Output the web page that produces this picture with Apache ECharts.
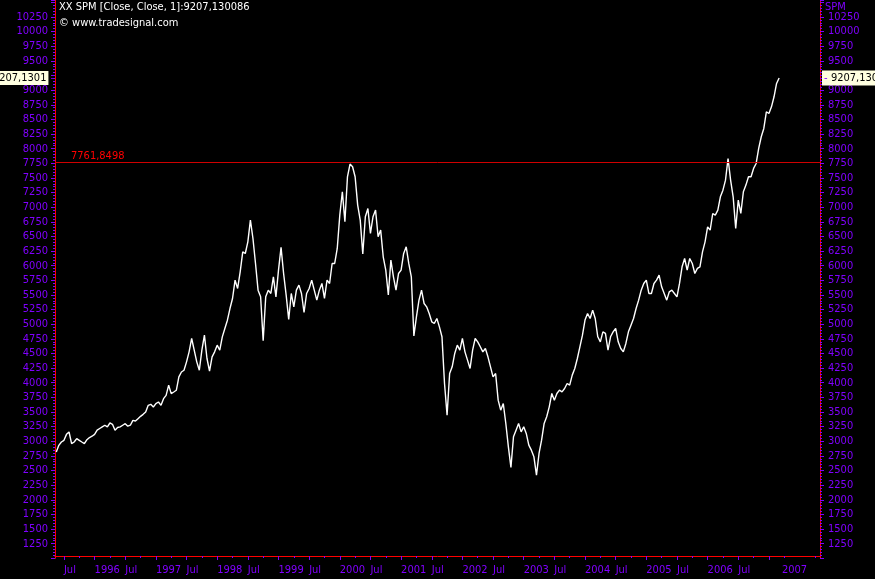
<!DOCTYPE html>
<html>
<head>
<meta charset="utf-8">
<script src="https://cdn.jsdelivr.net/npm/echarts@6/dist/echarts.min.js"></script>
<style>
html,body{margin:0;padding:0;background:#000;}
#chart{width:875px;height:579px;}
</style>
</head>
<body>
<div id="chart"></div>
<script>
// ---- DATA ----
// Half-monthly closes, first value = 1995-05-15, last = 2007-02-15
const seriesName = 'XX SPM';
const closeValues = [
2816,2930,2987,3016,3118,3158,2959,2987,3044,3016,
2987,2959,3027,3064,3086,3118,3189,3218,3246,3274,
3246,3312,3290,3189,3235,3246,3274,3301,3257,3274,
3358,3346,3386,3426,3460,3500,3614,3631,3586,3643,
3671,3614,3728,3785,3958,3814,3842,3871,4099,4184,
4213,4357,4528,4756,4556,4357,4213,4556,4813,4414,
4200,4443,4528,4642,4556,4784,4927,5069,5268,5439,
5752,5610,5895,6237,6208,6408,6778,6465,6038,5582,
5468,4720,5468,5582,5525,5810,5468,5924,6312,5867,
5497,5081,5525,5297,5582,5668,5525,5200,5525,5611,
5753,5582,5411,5582,5696,5440,5753,5696,6038,6038,
6294,6864,7263,6750,7519,7736,7690,7519,7035,6779,
6200,6836,6978,6551,6836,6950,6494,6608,6152,5924,
5500,6095,5810,5582,5867,5924,6209,6323,6038,5810,
4800,5126,5411,5582,5354,5297,5183,5041,5012,5098,
4955,4785,3987,3446,4158,4272,4500,4642,4557,4756,
4528,4386,4243,4557,4756,4699,4614,4528,4585,4443,
4272,4101,4158,3702,3531,3645,3304,2905,2551,3076,
3190,3304,3161,3247,3133,2933,2848,2734,2420,2791,
3019,3304,3418,3588,3816,3702,3816,3873,3845,3902,
3987,3959,4130,4243,4414,4614,4813,5070,5184,5098,
5240,5098,4785,4699,4870,4842,4557,4785,4870,4927,
4699,4585,4528,4671,4870,4984,5098,5269,5411,5582,
5696,5753,5525,5525,5696,5753,5839,5639,5525,5411,
5554,5582,5525,5468,5696,5981,6123,5924,6123,6038,
5867,5953,5981,6237,6408,6664,6607,6892,6864,6949,
7177,7291,7462,7832,7462,7177,6636,7120,6892,7263,
7377,7519,7519,7662,7747,8003,8203,8345,8630,8601,
8715,8886,9114,9207.1301
];
const lastClose = 9207.1301;
const titleValue = '9207,130086';
const levelLine = 7761.8498;
const yTicks = {min: 1000, max: 10540, step: 250};

// Category axis: quarter-month slots from 1995-05 (2nd slot) to 2007-11
const slotDays = ['01','08','15','22'];
const categories = [];
(function(){
  let q0 = (5 - 1) * 4 + 1; // May 1995, slot 1
  for (let k = 0; k < 600; k++) {
    const q = q0 + k;
    const y = 1995 + Math.floor(q / 48);
    const m = Math.floor((q % 48) / 4) + 1;
    categories.push(y + '-' + (m < 10 ? '0' + m : m) + '-' + slotDays[q % 4]);
  }
})();
// value j sits at slot 1 + 2j (1st / 15th of each month)
const seriesData = closeValues.map((v, j) => [categories[1 + 2 * j], v]);

// ---- CHART ----
const PURPLE = '#8000ff';
const FONT = "'DejaVu Sans Condensed', 'Liberation Sans Narrow', 'Liberation Sans', sans-serif";
const FS = 11;
const fmtComma = (v, d) => v.toFixed(d).replace('.', ',');

function isLong(val){ const p = val.split('-'); return p[2]==='01' && (p[1]==='01' || p[1]==='07'); }
function isShort(val){ const p = val.split('-'); return p[2]==='01' && (p[1]==='04' || p[1]==='10'); }

const chart = echarts.init(document.getElementById('chart'), null, {renderer: 'canvas'});
const yAxisCommon = {
  type: 'value',
  min: yTicks.min, max: yTicks.max, interval: yTicks.step,
  splitLine: {show: false},
  axisLine: {show: true, lineStyle: {color: '#ff0000', width: 1}},
  axisTick: {show: true, length: 4, lineStyle: {color: PURPLE, width: 1}},
  minorTick: {show: true, splitNumber: 5, length: 2, lineStyle: {color: PURPLE, width: 1}},
  axisLabel: {
    color: PURPLE, fontFamily: FONT, fontSize: FS,
    showMaxLabel: false,
    // labels hidden where the last-price box sits, and at the clipped edges
    formatter: v => (v >= 10500 || v <= 1000 || Math.abs(v - lastClose) < 100) ? '' : String(v)
  }
};

chart.setOption({
  animation: false,
  backgroundColor: '#000',
  title: [
    {text: seriesName + ' [Close, Close, 1]:' + titleValue, subtext: '\u00a9 www.tradesignal.com',
     left: 59, top: 2, itemGap: 5, padding: 0,
     textStyle: {color: '#fff', fontFamily: FONT, fontSize: FS, fontWeight: 'normal'},
     subtextStyle: {color: '#fff', fontFamily: FONT, fontSize: FS}},
    {text: 'SPM', left: 825, top: 2, padding: 0,
     textStyle: {color: PURPLE, fontFamily: FONT, fontSize: FS, fontWeight: 'normal'}}
  ],
  grid: {left: 55, right: 55, top: 0, bottom: 20.7, containLabel: false},
  xAxis: [
    {type: 'category', data: categories, boundaryGap: false, position: 'bottom', offset: -2.3,
     axisLine: {show: true, lineStyle: {color: '#ff0000', width: 1}},
     axisTick: {show: true, length: 4, interval: (i, v) => isLong(v), lineStyle: {color: PURPLE}},
     axisLabel: {show: true, interval: (i, v) => isLong(v), align: 'left', margin: 9,
       color: PURPLE, fontFamily: FONT, fontSize: FS,
       formatter: v => { const p = v.split('-'); if (p[1]==='07') return 'Jul'; if (p[0]==='2007') return '{p|2007}'; return p[0]; },
       rich: {p: {padding: [0,0,0,13], color: PURPLE, fontFamily: FONT, fontSize: FS}}},
     splitLine: {show: false}},
    {type: 'category', data: categories, boundaryGap: false, position: 'bottom', offset: -2.3,
     axisLine: {show: false},
     axisTick: {show: true, length: 2, interval: (i, v) => isShort(v), lineStyle: {color: PURPLE}},
     axisLabel: {show: false}, splitLine: {show: false}}
  ],
  yAxis: [
    Object.assign({}, yAxisCommon, {position: 'left', axisLabel: Object.assign({}, yAxisCommon.axisLabel, {margin: 7})}),
    Object.assign({}, yAxisCommon, {position: 'right', axisLabel: Object.assign({}, yAxisCommon.axisLabel, {margin: 8})})
  ],
  series: [{
    name: seriesName, type: 'line', xAxisIndex: 0, yAxisIndex: 0,
    data: seriesData, showSymbol: false, symbol: 'none',
    lineStyle: {color: '#ffffff', width: 1.4}, z: 3,
    markLine: {
      silent: true, symbol: ['none','none'], animation: false,
      data: [
        {yAxis: levelLine, lineStyle: {color: '#d00000', width: 1, type: 'solid'},
         label: {show: true, position: 'insideStartTop', distance: [16, 1], formatter: fmtComma(levelLine, 4),
                 color: '#ff0000', fontFamily: FONT, fontSize: FS}},
        {yAxis: lastClose, lineStyle: {color: 'rgba(0,0,0,0)', width: 1},
         label: {show: true, position: 'start', distance: 1, formatter: '{a|' + fmtComma(lastClose, 4) + '}{d|-}',
                 rich: {a: {backgroundColor: '#ffffe0', color: '#000', fontFamily: FONT, fontSize: FS, padding: [2,2,1,2]},
                        d: {color: PURPLE, fontFamily: FONT, fontSize: FS, padding: [0,0,0,2]}}}},
        {yAxis: lastClose, lineStyle: {color: 'rgba(0,0,0,0)', width: 1},
         label: {show: true, position: 'end', distance: 2, backgroundColor: '#ffffe0', padding: [2,2,1,2],
                 formatter: '{d|-} {a|' + fmtComma(lastClose, 4) + '}',
                 rich: {a: {color: '#000', fontFamily: FONT, fontSize: FS},
                        d: {color: PURPLE, fontFamily: FONT, fontSize: FS}}}}
      ]
    }
  }]
});
</script>
</body>
</html>
